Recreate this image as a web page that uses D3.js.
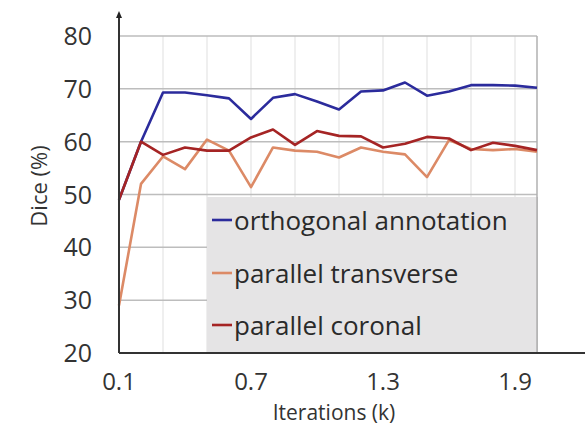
<!DOCTYPE html>
<html><head><meta charset="utf-8">
<script src="https://cdn.jsdelivr.net/npm/d3@7"></script>
<style>body{margin:0;background:#fff}svg{display:block}</style>
</head><body><svg id="c" width="585" height="426"></svg>
<script>
const iterations = [0.1,0.2,0.3,0.4,0.5,0.6,0.7,0.8,0.9,1.0,1.1,1.2,1.3,1.4,1.5,1.6,1.7,1.8,1.9,2.0];
const orthogonal = [49,60,69.3,69.3,68.8,68.2,64.3,68.3,69.0,67.6,66.1,69.5,69.7,71.2,68.7,69.5,70.7,70.7,70.6,70.2];
const transverse = [29,52,57.2,54.8,60.4,58.3,51.4,58.9,58.3,58.1,57.0,58.9,58.1,57.6,53.3,60.3,58.6,58.4,58.6,58.1];
const coronal = [49,60,57.5,58.9,58.3,58.3,60.8,62.3,59.4,62.0,61.1,61.0,58.9,59.6,60.9,60.6,58.4,59.8,59.2,58.4];
const seriesNames = ["orthogonal annotation","parallel transverse","parallel coronal"];
const seriesColors = ["#2b2b9c","#dc8a66","#a52424"];
const yTicks = [20,30,40,50,60,70,80];
const xTickLabels = [0.1,0.7,1.3,1.9];
const xGrid = [0.3,0.5,0.7,0.9,1.1,1.3,1.5,1.7,1.9];

const svg = d3.select("#c");
const font = "'Open Sans', sans-serif";
const x = d3.scaleLinear().domain([0.1,2.0]).range([119,537]);
const y = d3.scaleLinear().domain([20,80]).range([353,36]);

// vertical grid
svg.append("g").selectAll("line").data(xGrid).join("line")
  .attr("x1",d=>x(d)).attr("x2",d=>x(d)).attr("y1",y(80)).attr("y2",y(20))
  .attr("stroke","#e4e4e4").attr("stroke-width",1.2);
// horizontal grid
svg.append("g").selectAll("line").data(yTicks.filter(d=>d>20)).join("line")
  .attr("x1",x(0.1)).attr("x2",x(2.0)).attr("y1",d=>y(d)).attr("y2",d=>y(d))
  .attr("stroke","#bdbdbd").attr("stroke-width",1.5);
// right border
svg.append("line").attr("x1",x(2.0)).attr("x2",x(2.0)).attr("y1",y(80)).attr("y2",y(20))
  .attr("stroke","#b0b0b0").attr("stroke-width",1.5);

const allSeries = [orthogonal, transverse, coronal];
const line = d3.line().x((d,i)=>x(iterations[i])).y(d=>y(d));
svg.append("g").selectAll("path").data(allSeries).join("path")
  .attr("d",line).attr("fill","none")
  .attr("stroke",(d,i)=>seriesColors[i]).attr("stroke-width",2.6)
  .attr("stroke-linejoin","round");

const lg = svg.append("g");
lg.append("rect").attr("x",207).attr("y",197).attr("width",x(2.0)-207).attr("height",y(20)-197)
  .attr("fill","#e5e4e5");
const rows = [220,273,325];
seriesNames.forEach((n,i)=>{
  lg.append("line").attr("x1",212).attr("x2",232).attr("y1",rows[i]).attr("y2",rows[i])
    .attr("stroke",seriesColors[i]).attr("stroke-width",2.6);
  lg.append("text").attr("x",234).attr("y",rows[i]+10).text(n)
    .attr("font-family",font).attr("font-size",26).attr("fill","#2a2a2a");
});
lg.append("line").attr("x1",x(2.0)).attr("x2",x(2.0)).attr("y1",197).attr("y2",y(20))
  .attr("stroke","#b0b0b0").attr("stroke-width",1.5);

// axes
svg.append("line").attr("x1",119).attr("x2",585).attr("y1",y(20)).attr("y2",y(20))
  .attr("stroke","#333").attr("stroke-width",2);
svg.append("line").attr("x1",119).attr("x2",119).attr("y1",y(20)).attr("y2",16)
  .attr("stroke","#333").attr("stroke-width",2);
svg.append("path").attr("d","M119,11 L116,18 L122,18 Z").attr("fill","#222");

// y tick labels
svg.append("g").selectAll("text").data(yTicks).join("text")
  .attr("x",92).attr("y",d=>y(d)+9).attr("text-anchor","end")
  .attr("font-family",font).attr("font-size",25).attr("fill","#333").text(d=>d);
// x tick labels
svg.append("g").selectAll("text").data(xTickLabels).join("text")
  .attr("x",d=>x(d)).attr("y",390).attr("text-anchor","middle")
  .attr("font-family",font).attr("font-size",24).attr("fill","#333").text(d=>d.toFixed(1));
// axis titles
svg.append("text").attr("x",334).attr("y",419.5).attr("text-anchor","middle")
  .attr("font-family",font).attr("font-size",21).attr("fill","#333").text("Iterations (k)");
svg.append("text").attr("transform","translate(47,186) rotate(-90)").attr("text-anchor","middle")
  .attr("font-family",font).attr("font-size",22).attr("fill","#333").text("Dice (%)");
</script></body></html>
